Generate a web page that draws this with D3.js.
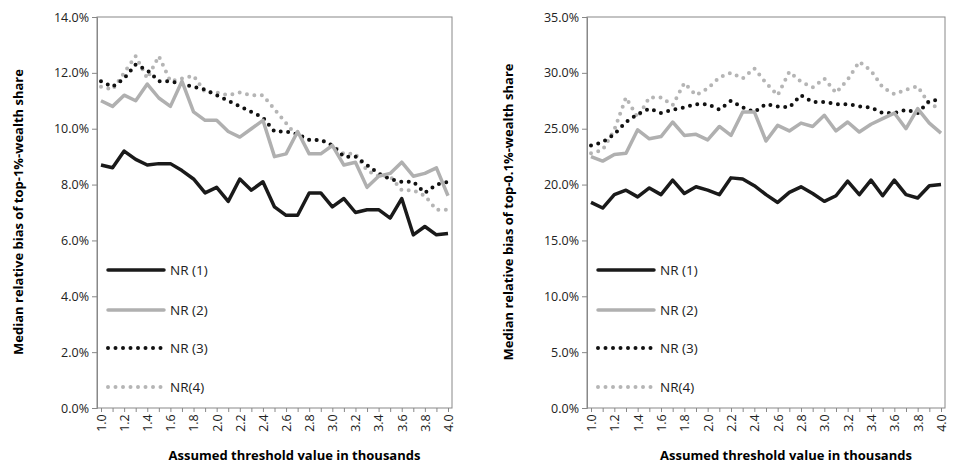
<!DOCTYPE html><html><head><meta charset="utf-8"><script src="https://cdn.jsdelivr.net/npm/d3@7"></script>
<style>body{margin:0;background:#fff}text{font-family:"Open Sans","Liberation Sans",Arial,sans-serif}</style></head><body><svg id="c" width="955" height="468"></svg><script>
const xs=d3.range(31).map(i=>+(1+i*0.1).toFixed(1));
const xTicks=["1.0","1.2","1.4","1.6","1.8","2.0","2.2","2.4","2.6","2.8","3.0","3.2","3.4","3.6","3.8","4.0"];
const seriesNames=["NR (1)","NR (2)","NR (3)","NR(4)"];
const leftNR1=[8.7,8.6,9.2,8.9,8.7,8.75,8.75,8.5,8.2,7.7,7.9,7.4,8.2,7.8,8.1,7.2,6.9,6.9,7.7,7.7,7.2,7.5,7.0,7.1,7.1,6.8,7.5,6.2,6.5,6.2,6.25];
const leftNR2=[11.0,10.8,11.2,11.0,11.6,11.1,10.8,11.7,10.6,10.3,10.3,9.9,9.7,10.0,10.3,9.0,9.1,9.9,9.1,9.1,9.4,8.7,8.8,7.9,8.3,8.4,8.8,8.3,8.4,8.6,7.6];
const leftNR3=[11.7,11.5,11.8,12.3,12.1,11.7,11.7,11.6,11.5,11.4,11.2,11.0,10.8,10.6,10.4,9.9,9.9,9.8,9.6,9.6,9.4,9.0,9.0,8.7,8.4,8.2,8.1,8.1,7.7,8.0,8.1];
const leftNR4=[11.5,11.4,12.0,12.6,11.8,12.6,11.7,11.8,11.9,11.3,11.3,11.2,11.3,11.2,11.2,10.7,10.2,9.7,9.6,9.6,9.4,9.1,9.1,8.5,8.3,8.3,7.8,7.8,7.6,7.1,7.1];
const rightNR1=[18.4,17.9,19.1,19.5,18.9,19.7,19.1,20.4,19.2,19.8,19.5,19.1,20.6,20.5,19.9,19.1,18.4,19.3,19.8,19.2,18.5,19.0,20.3,19.1,20.4,19.0,20.4,19.1,18.8,19.9,20.0];
const rightNR2=[22.5,22.1,22.7,22.8,24.9,24.1,24.3,25.6,24.4,24.5,24.0,25.2,24.4,26.5,26.5,23.9,25.3,24.8,25.5,25.2,26.2,24.8,25.6,24.7,25.4,25.9,26.4,25.0,26.8,25.5,24.6];
const rightNR3=[23.5,23.8,24.5,25.6,26.3,26.8,26.4,26.7,26.9,27.2,27.2,26.7,27.5,26.9,26.5,27.2,27.0,26.9,28.0,27.4,27.4,27.2,27.2,27.0,26.9,26.4,26.4,26.7,26.4,27.5,27.6];
const rightNR4=[22.8,23.1,24.9,27.8,26.0,27.8,27.8,27.1,29.1,28.0,28.6,29.6,30.0,29.5,30.4,29.1,28.0,30.1,29.2,28.7,29.5,28.2,29.4,31.0,30.2,28.7,28.1,28.5,28.8,27.2,26.8];
const styles=[{c:"#1a1a1a",w:3.5,d:null},{c:"#b0b0b0",w:3.5,d:null},{c:"#111",w:4,d:"0,7.5"},{c:"#b5b5b5",w:4,d:"0,7.5"}];
const svg=d3.select("#c");
const Y0=408,Y1=17;
function panel(x0,x1,ymax,ystep,data,yTitle,legY){
 const g=svg.append("g");
 const x=d3.scaleLinear().domain([1,4]).range([x0+4,x1-4]);
 const y=d3.scaleLinear().domain([0,ymax]).range([Y0,Y1]);
 g.append("rect").attr("x",x0).attr("y",Y1).attr("width",x1-x0).attr("height",Y0-Y1).attr("fill","none").attr("stroke","#888");
 const ya=d3.axisLeft(y).tickValues(d3.range(0,ymax+0.001,ystep)).tickFormat(d=>d.toFixed(1)+"%").tickSize(5);
 const ay=g.append("g").attr("transform",`translate(${x0},0)`).call(ya);
 ay.select(".domain").attr("stroke","#888");ay.selectAll("line").attr("stroke","#888");
 ay.selectAll("text").attr("font-size",12.5).attr("fill","#222");
 const xa=d3.axisBottom(x).tickValues(xs).tickFormat(d=>xTicks.includes(d.toFixed(1))?d.toFixed(1):"").tickSize(4);
 const ax=g.append("g").attr("transform",`translate(0,${Y0})`).call(xa);
 ax.select(".domain").remove();ax.selectAll("line").attr("stroke","#888");
 ax.selectAll("text").attr("font-size",12.5).attr("fill","#222").attr("transform","rotate(-90)").attr("text-anchor","end").attr("dx","-0.5em").attr("dy","0.35em").attr("x",0).attr("y",0);
 const line=d3.line().x((d,i)=>x(xs[i])).y(d=>y(d));
 [3,2,1,0].forEach(k=>{const s=styles[k];g.append("path").datum(data[k]).attr("d",line).attr("fill","none").attr("stroke",s.c).attr("stroke-width",s.w).attr("stroke-linecap",s.d?"round":"butt").attr("stroke-linejoin","round").attr("stroke-dasharray",s.d);});
 seriesNames.forEach((n,k)=>{const s=styles[k],ly=legY[k];
  g.append("line").attr("x1",x0+11).attr("x2",x0+67).attr("y1",ly).attr("y2",ly).attr("stroke",s.c).attr("stroke-width",s.w).attr("stroke-linecap","round").attr("stroke-dasharray",s.d);
  g.append("text").attr("x",x0+73).attr("y",ly+5).attr("font-size",13.5).attr("fill","#222").text(n);});
 g.append("text").attr("transform",`translate(${x0-74},212) rotate(-90)`).attr("text-anchor","middle").attr("font-size",13).attr("font-weight","bold").text(yTitle);
 g.append("text").attr("x",(x0+x1)/2+20).attr("y",460).attr("text-anchor","middle").attr("font-size",13).attr("font-weight","bold").text("Assumed threshold value in thousands");
}
panel(97,452,14,2,[leftNR1,leftNR2,leftNR3,leftNR4],"Median relative bias of top-1%-wealth share",[270,310,348,387]);
panel(587,945,35,5,[rightNR1,rightNR2,rightNR3,rightNR4],"Median relative bias of top-0.1%-wealth share",[270,310,348,387]);
</script></body></html>
